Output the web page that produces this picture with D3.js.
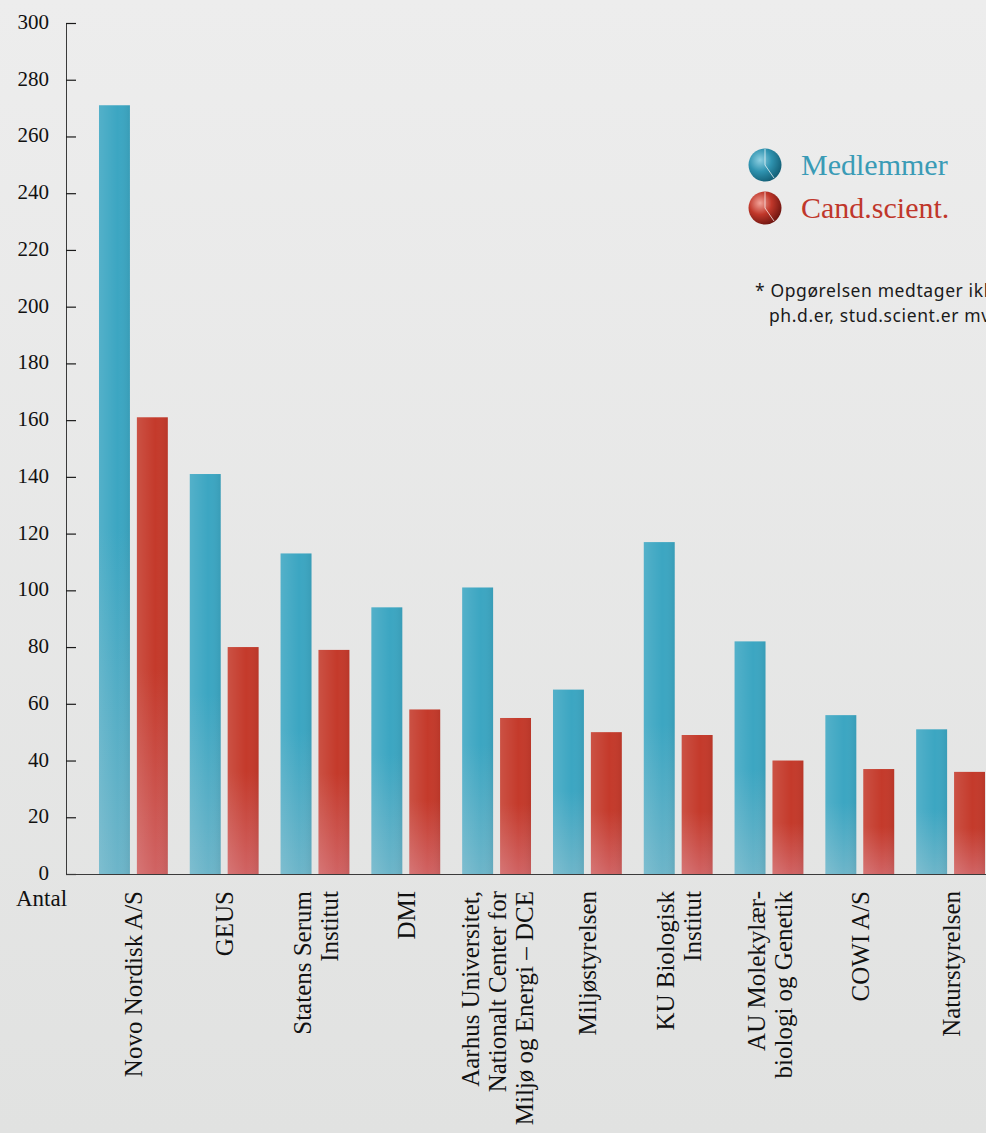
<!DOCTYPE html>
<html>
<head>
<meta charset="utf-8">
<script src="https://cdn.jsdelivr.net/npm/d3@7"></script>
<style>
  html, body { margin: 0; padding: 0; overflow: hidden; }
  svg { display: block; }
</style>
</head>
<body>
<svg id="chart" width="986" height="1133"></svg>
<script>
(function () {
  'use strict';

  // data
  var categories = [
    ['Novo Nordisk A/S'],
    ['GEUS'],
    ['Statens Serum', 'Institut'],
    ['DMI'],
    ['Aarhus Universitet,', 'Nationalt Center for', 'Miljø og Energi – DCE'],
    ['Miljøstyrelsen'],
    ['KU Biologisk', 'Institut'],
    ['AU Molekylær-', 'biologi og Genetik'],
    ['COWI A/S'],
    ['Naturstyrelsen']
  ];
  var seriesNames = ['Medlemmer', 'Cand.scient.'];
  var medlemmer = [271, 141, 113, 94, 101, 65, 117, 82, 56, 51];
  var candScient = [161, 80, 79, 58, 55, 50, 49, 40, 37, 36];
  var yTicks = [0, 20, 40, 60, 80, 100, 120, 140, 160, 180, 200, 220, 240, 260, 280, 300];
  var footnote = ['* Opgørelsen medtager ikke', 'ph.d.er, stud.scient.er mv.'];

  var W = 986, H = 1133;
  var svg = d3.select('#chart');
  var defs = svg.append('defs');

  // background
  var bg = defs.append('linearGradient').attr('id', 'bg')
    .attr('x1', 0).attr('y1', 0).attr('x2', 0).attr('y2', 1);
  bg.append('stop').attr('offset', '0%').attr('stop-color', '#ededed');
  bg.append('stop').attr('offset', '100%').attr('stop-color', '#e1e2e1');
  svg.append('rect').attr('width', W).attr('height', H).attr('fill', 'url(#bg)');

  function barGradient(id, top, bottom) {
    var g = defs.append('linearGradient').attr('id', id)
      .attr('x1', 0).attr('y1', 0).attr('x2', 0).attr('y2', 1);
    g.append('stop').attr('offset', '0%').attr('stop-color', top);
    g.append('stop').attr('offset', '55%').attr('stop-color', top);
    g.append('stop').attr('offset', '100%').attr('stop-color', bottom);
  }
  barGradient('gBlue', '#3ca6c2', '#6db5c9');
  barGradient('gRed', '#c43a2b', '#d06363');

  var shade = defs.append('linearGradient').attr('id', 'shade')
    .attr('x1', 0).attr('y1', 0).attr('x2', 1).attr('y2', 0);
  shade.append('stop').attr('offset', '0%').attr('stop-color', '#fff').attr('stop-opacity', 0.12);
  shade.append('stop').attr('offset', '60%').attr('stop-color', '#fff').attr('stop-opacity', 0);
  shade.append('stop').attr('offset', '100%').attr('stop-color', '#000').attr('stop-opacity', 0.06);

  var y = d3.scaleLinear().domain([0, 300]).range([874, 23]);

  var x0 = d3.scaleBand()
    .domain(d3.range(categories.length))
    .range([88, 996])
    .paddingInner(0.242)
    .paddingOuter(0.121);

  var x1 = d3.scaleBand()
    .domain(seriesNames)
    .range([0, x0.bandwidth()])
    .paddingInner(0.184);

  var fills = { 'Medlemmer': 'url(#gBlue)', 'Cand.scient.': 'url(#gRed)' };
  var rows = categories.map(function (c, i) {
    return [
      { key: 'Medlemmer', value: medlemmer[i] },
      { key: 'Cand.scient.', value: candScient[i] }
    ];
  });

  var groups = svg.append('g').selectAll('g')
    .data(rows)
    .join('g')
    .attr('transform', function (d, i) { return 'translate(' + x0(i) + ',0)'; });

  groups.selectAll('rect.bar')
    .data(function (d) { return d; })
    .join('rect')
    .attr('class', 'bar')
    .attr('x', function (d) { return x1(d.key); })
    .attr('y', function (d) { return y(d.value); })
    .attr('width', x1.bandwidth())
    .attr('height', function (d) { return y(0) - y(d.value); })
    .attr('fill', function (d) { return fills[d.key]; });

  groups.selectAll('rect.shade')
    .data(function (d) { return d; })
    .join('rect')
    .attr('class', 'shade')
    .attr('x', function (d) { return x1(d.key); })
    .attr('y', function (d) { return y(d.value); })
    .attr('width', x1.bandwidth())
    .attr('height', function (d) { return y(0) - y(d.value); })
    .attr('fill', 'url(#shade)');

  // y axis
  var yAxis = d3.axisRight(y).tickValues(yTicks).tickSize(10).tickFormat('');
  var ya = svg.append('g').attr('transform', 'translate(66,0)').call(yAxis);
  ya.select('.domain').attr('stroke', '#3a3a3a').attr('d', 'M0.5,' + y(300) + 'V' + y(0));
  ya.selectAll('.tick line').attr('stroke', '#1a1a1a').attr('stroke-width', 1.2);

  svg.append('g').selectAll('text')
    .data(yTicks)
    .join('text')
    .attr('x', 49)
    .attr('y', function (d) { return y(d) + 6; })
    .attr('text-anchor', 'end')
    .attr('font-family', 'Liberation Serif, serif')
    .attr('font-size', 21)
    .attr('fill', '#111')
    .text(function (d) { return d; });

  // baseline
  svg.append('line')
    .attr('x1', 66).attr('x2', W)
    .attr('y1', y(0) + 0.5).attr('y2', y(0) + 0.5)
    .attr('stroke', '#3a3a3a').attr('stroke-width', 1.2);

  svg.append('text')
    .attr('x', 16).attr('y', 906)
    .attr('font-family', 'Liberation Serif, serif')
    .attr('font-size', 23)
    .attr('fill', '#111')
    .text('Antal');

  // category labels, rotated
  var lineH = 27;
  svg.append('g').selectAll('text')
    .data(categories)
    .join('text')
    .attr('transform', function (d, i) {
      var cx = x0(i) + x0.bandwidth() / 2;
      return 'translate(' + cx + ',891) rotate(-90)';
    })
    .attr('text-anchor', 'end')
    .attr('font-family', 'Liberation Serif, serif')
    .attr('font-size', 25)
    .attr('fill', '#111')
    .each(function (lines) {
      var t = d3.select(this);
      var off = -(lines.length - 1) * lineH / 2 + 9;
      lines.forEach(function (l, k) {
        t.append('tspan').attr('x', 0).attr('y', off + k * lineH).text(l);
      });
    });

  // legend
  var legendColors = [
    { name: 'Medlemmer', light: '#8fd0e2', mid: '#2f93b0', dark: '#135e75', text: '#3a9bb6' },
    { name: 'Cand.scient.', light: '#f2a49a', mid: '#c0372a', dark: '#6e1510', text: '#c0372b' }
  ];
  legendColors.forEach(function (c, i) {
    var rg = defs.append('radialGradient').attr('id', 'lg' + i)
      .attr('cx', '35%').attr('cy', '35%').attr('r', '70%');
    rg.append('stop').attr('offset', '0%').attr('stop-color', c.light);
    rg.append('stop').attr('offset', '50%').attr('stop-color', c.mid);
    rg.append('stop').attr('offset', '100%').attr('stop-color', c.dark);
  });
  var leg = svg.append('g').selectAll('g')
    .data(legendColors)
    .join('g')
    .attr('transform', function (d, i) { return 'translate(765,' + (165 + i * 43) + ')'; });
  leg.append('circle').attr('r', 16.5)
    .attr('fill', function (d, i) { return 'url(#lg' + i + ')'; });
  leg.append('path')
    .attr('d', 'M0,-16V0L9,13')
    .attr('fill', 'none')
    .attr('stroke', '#fff')
    .attr('stroke-opacity', 0.7)
    .attr('stroke-width', 1);
  leg.append('text')
    .attr('x', 36).attr('y', 10)
    .attr('font-family', 'Liberation Serif, serif')
    .attr('font-size', 30)
    .attr('fill', function (d) { return d.text; })
    .text(function (d) { return d.name; });

  // footnote
  svg.append('g').selectAll('text')
    .data(footnote)
    .join('text')
    .attr('x', function (d, i) { return i === 0 ? 755 : 769; })
    .attr('y', function (d, i) { return 297 + i * 25; })
    .attr('font-family', 'Noto Sans, sans-serif')
    .attr('font-size', 17.5)
    .attr('letter-spacing', 0.6)
    .attr('fill', '#1a1a1a')
    .text(function (d) { return d; });
})();
</script>
</body>
</html>
